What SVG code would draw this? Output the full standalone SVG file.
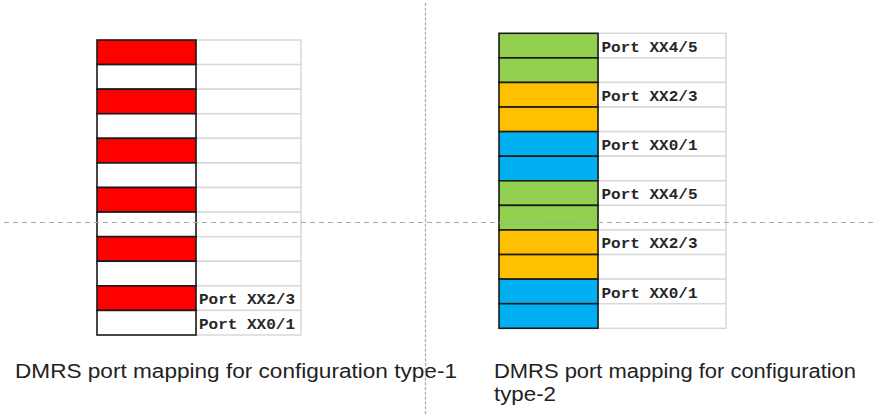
<svg xmlns="http://www.w3.org/2000/svg" width="873" height="414" viewBox="0 0 873 414">
<style>
.bg{fill:#ffffff}
.lc{fill:#ffffff;stroke:#d9d9d9;stroke-width:1.5}
.k{stroke:#1a1a1a;stroke-width:1.6}
.r{fill:#ff0000}
.w{fill:#ffffff}
.g{fill:#92d050}
.o{fill:#ffc000}
.b{fill:#00b0f0}
.port{font-family:"Liberation Mono","Courier New",monospace;font-weight:bold;font-size:15px;fill:#262626}
.cap{font-family:"Liberation Sans",Arial,sans-serif;font-size:19.5px;fill:#222222}
.sep{stroke:#a6a6a6;stroke-width:1.2;fill:none}
</style>
<rect class="bg" x="0" y="0" width="873" height="414"/>

<g id="grid-type1">
  <g id="t1-labels-col">
    <rect class="lc" x="196" y="40" width="105" height="24.58"/>
    <rect class="lc" x="196" y="64.58" width="105" height="24.58"/>
    <rect class="lc" x="196" y="89.17" width="105" height="24.58"/>
    <rect class="lc" x="196" y="113.75" width="105" height="24.58"/>
    <rect class="lc" x="196" y="138.33" width="105" height="24.58"/>
    <rect class="lc" x="196" y="162.92" width="105" height="24.58"/>
    <rect class="lc" x="196" y="187.5" width="105" height="24.58"/>
    <rect class="lc" x="196" y="212.08" width="105" height="24.58"/>
    <rect class="lc" x="196" y="236.67" width="105" height="24.58"/>
    <rect class="lc" x="196" y="261.25" width="105" height="24.58"/>
    <rect class="lc" x="196" y="285.83" width="105" height="24.58"/>
    <rect class="lc" x="196" y="310.42" width="105" height="24.58"/>
  </g>
  <g id="t1-re-col">
    <rect class="k r" x="97" y="40" width="99" height="24.58"/>
    <rect class="k w" x="97" y="64.58" width="99" height="24.58"/>
    <rect class="k r" x="97" y="89.17" width="99" height="24.58"/>
    <rect class="k w" x="97" y="113.75" width="99" height="24.58"/>
    <rect class="k r" x="97" y="138.33" width="99" height="24.58"/>
    <rect class="k w" x="97" y="162.92" width="99" height="24.58"/>
    <rect class="k r" x="97" y="187.5" width="99" height="24.58"/>
    <rect class="k w" x="97" y="212.08" width="99" height="24.58"/>
    <rect class="k r" x="97" y="236.67" width="99" height="24.58"/>
    <rect class="k w" x="97" y="261.25" width="99" height="24.58"/>
    <rect class="k r" x="97" y="285.83" width="99" height="24.58"/>
    <rect class="k w" x="97" y="310.42" width="99" height="24.58"/>
  </g>
  <g id="t1-port-labels">
    <text class="port" x="199" y="304" textLength="96" lengthAdjust="spacingAndGlyphs">Port XX2/3</text>
    <text class="port" x="199" y="329" textLength="96" lengthAdjust="spacingAndGlyphs">Port XX0/1</text>
  </g>
</g>

<g id="grid-type2">
  <g id="t2-labels-col">
    <rect class="lc" x="598" y="33.3" width="128" height="24.58"/>
    <rect class="lc" x="598" y="57.88" width="128" height="24.58"/>
    <rect class="lc" x="598" y="82.47" width="128" height="24.58"/>
    <rect class="lc" x="598" y="107.05" width="128" height="24.58"/>
    <rect class="lc" x="598" y="131.63" width="128" height="24.58"/>
    <rect class="lc" x="598" y="156.22" width="128" height="24.58"/>
    <rect class="lc" x="598" y="180.8" width="128" height="24.58"/>
    <rect class="lc" x="598" y="205.38" width="128" height="24.58"/>
    <rect class="lc" x="598" y="229.97" width="128" height="24.58"/>
    <rect class="lc" x="598" y="254.55" width="128" height="24.58"/>
    <rect class="lc" x="598" y="279.13" width="128" height="24.58"/>
    <rect class="lc" x="598" y="303.72" width="128" height="24.58"/>
  </g>
  <g id="t2-re-col">
    <rect class="k g" x="499" y="33.3" width="99" height="24.58"/>
    <rect class="k g" x="499" y="57.88" width="99" height="24.58"/>
    <rect class="k o" x="499" y="82.47" width="99" height="24.58"/>
    <rect class="k o" x="499" y="107.05" width="99" height="24.58"/>
    <rect class="k b" x="499" y="131.63" width="99" height="24.58"/>
    <rect class="k b" x="499" y="156.22" width="99" height="24.58"/>
    <rect class="k g" x="499" y="180.8" width="99" height="24.58"/>
    <rect class="k g" x="499" y="205.38" width="99" height="24.58"/>
    <rect class="k o" x="499" y="229.97" width="99" height="24.58"/>
    <rect class="k o" x="499" y="254.55" width="99" height="24.58"/>
    <rect class="k b" x="499" y="279.13" width="99" height="24.58"/>
    <rect class="k b" x="499" y="303.72" width="99" height="24.58"/>
  </g>
  <g id="t2-port-labels">
    <text class="port" x="601.5" y="51.7" textLength="96" lengthAdjust="spacingAndGlyphs">Port XX4/5</text>
    <text class="port" x="601.5" y="100.9" textLength="96" lengthAdjust="spacingAndGlyphs">Port XX2/3</text>
    <text class="port" x="601.5" y="150.1" textLength="96" lengthAdjust="spacingAndGlyphs">Port XX0/1</text>
    <text class="port" x="601.5" y="199.2" textLength="96" lengthAdjust="spacingAndGlyphs">Port XX4/5</text>
    <text class="port" x="601.5" y="248.4" textLength="96" lengthAdjust="spacingAndGlyphs">Port XX2/3</text>
    <text class="port" x="601.5" y="297.6" textLength="96" lengthAdjust="spacingAndGlyphs">Port XX0/1</text>
  </g>
</g>

<g id="caption-type1">
  <text class="cap" x="15" y="378" textLength="442" lengthAdjust="spacingAndGlyphs">DMRS port mapping for configuration type-1</text>
</g>
<g id="caption-type2">
  <text class="cap" x="494" y="378" textLength="362" lengthAdjust="spacingAndGlyphs">DMRS port mapping for configuration</text>
  <text class="cap" x="494" y="401" textLength="62" lengthAdjust="spacingAndGlyphs">type-2</text>
</g>

<g id="connectors">
  <line class="sep" x1="425.5" y1="3" x2="425.5" y2="414" stroke-dasharray="3 1.8"/>
  <line class="sep" x1="4" y1="222.5" x2="873" y2="222.5" stroke-dasharray="5 4"/>
</g>
</svg>
